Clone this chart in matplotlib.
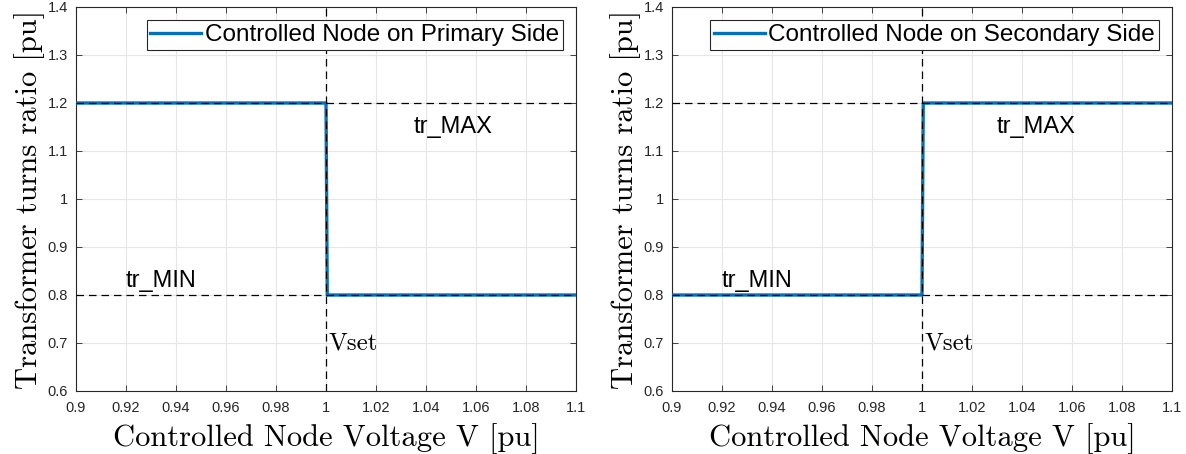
import matplotlib
matplotlib.use("Agg")
import matplotlib.pyplot as plt
import numpy as np

# step characteristic of the tap changer (voltage in pu -> turns ratio in pu)
v_primary = [0.9, 1.0, 1.0005, 1.1]
tr_primary = [1.2, 1.2, 0.8, 0.8]
v_secondary = [0.9, 1.0, 1.0005, 1.1]
tr_secondary = [0.8, 0.8, 1.2, 1.2]

v_set = 1.0
tr_max = 1.2
tr_min = 0.8

legend_labels = ["Controlled Node on Primary Side", "Controlled Node on Secondary Side"]
max_label_pos = [(1.035, 1.15), (1.030, 1.15)]
min_label_pos = [(0.920, 0.83), (0.920, 0.83)]
vset_label_pos = (1.001, 0.70)

x_ticks = np.round(np.arange(0.9, 1.1001, 0.02), 2)
y_ticks = np.round(np.arange(0.6, 1.4001, 0.1), 1)

BLUE = "#0072BD"
SANS = ["Liberation Sans", "DejaVu Sans"]
SERIF = ["cmr10", "DejaVu Serif"]

plt.rcParams["axes.formatter.use_mathtext"] = False

fig = plt.figure(figsize=(11.86, 4.54), dpi=100)
ax_pos = [
    [76 / 1186, 1 - 391 / 454, 500 / 1186, 384 / 454],
    [672 / 1186, 1 - 391 / 454, 500 / 1186, 384 / 454],
]

series = [(v_primary, tr_primary), (v_secondary, tr_secondary)]

for i, (vx, ty) in enumerate(series):
    ax = fig.add_axes(ax_pos[i])
    ax.plot(vx, ty, color=BLUE, linewidth=2.4, label=legend_labels[i], zorder=3)

    dash = dict(color="black", linewidth=0.9, linestyle=(0, (6, 4)), zorder=4)
    ax.axhline(tr_max, **dash)
    ax.axhline(tr_min, **dash)
    ax.axvline(v_set, **dash)

    ax.text(*max_label_pos[i], "tr_MAX", fontsize=17, family=SANS, va="center", ha="left")
    ax.text(*min_label_pos[i], "tr_MIN", fontsize=17, family=SANS, va="center", ha="left")
    ax.text(*vset_label_pos, "Vset", fontsize=18, family=SERIF, va="center", ha="left")

    ax.set_xlim(0.9, 1.1)
    ax.set_ylim(0.6, 1.4)
    ax.set_xticks(x_ticks)
    ax.set_yticks(y_ticks)
    ax.set_xticklabels([f"{t:g}" for t in x_ticks], family=SANS, fontsize=10.5)
    ax.set_yticklabels([f"{t:g}" for t in y_ticks], family=SANS, fontsize=10.5)
    ax.tick_params(direction="in", top=True, right=True, length=4, width=0.6,
                   color="#262626", labelcolor="#262626")
    ax.tick_params(axis="x", pad=7)
    ax.tick_params(axis="y", pad=6)
    for s in ax.spines.values():
        s.set_color("#262626")
        s.set_linewidth(0.8)
    ax.grid(True, color="#e6e6e6", linewidth=0.8)
    ax.set_axisbelow(True)

    ax.set_xlabel("Controlled Node Voltage V [pu]", family=SERIF, fontsize=22, labelpad=6)
    ax.set_ylabel("Transformer turns ratio [pu]", family=SERIF, fontsize=22, labelpad=2)

    leg = ax.legend(loc="upper right", prop={"family": SANS, "size": 17.5},
                    fancybox=False, framealpha=1, edgecolor="#262626",
                    handlelength=2.1, handletextpad=0.15, borderpad=0.15,
                    borderaxespad=0.55)
    leg.get_frame().set_linewidth(0.8)

fig.savefig("out.png", dpi=100)
